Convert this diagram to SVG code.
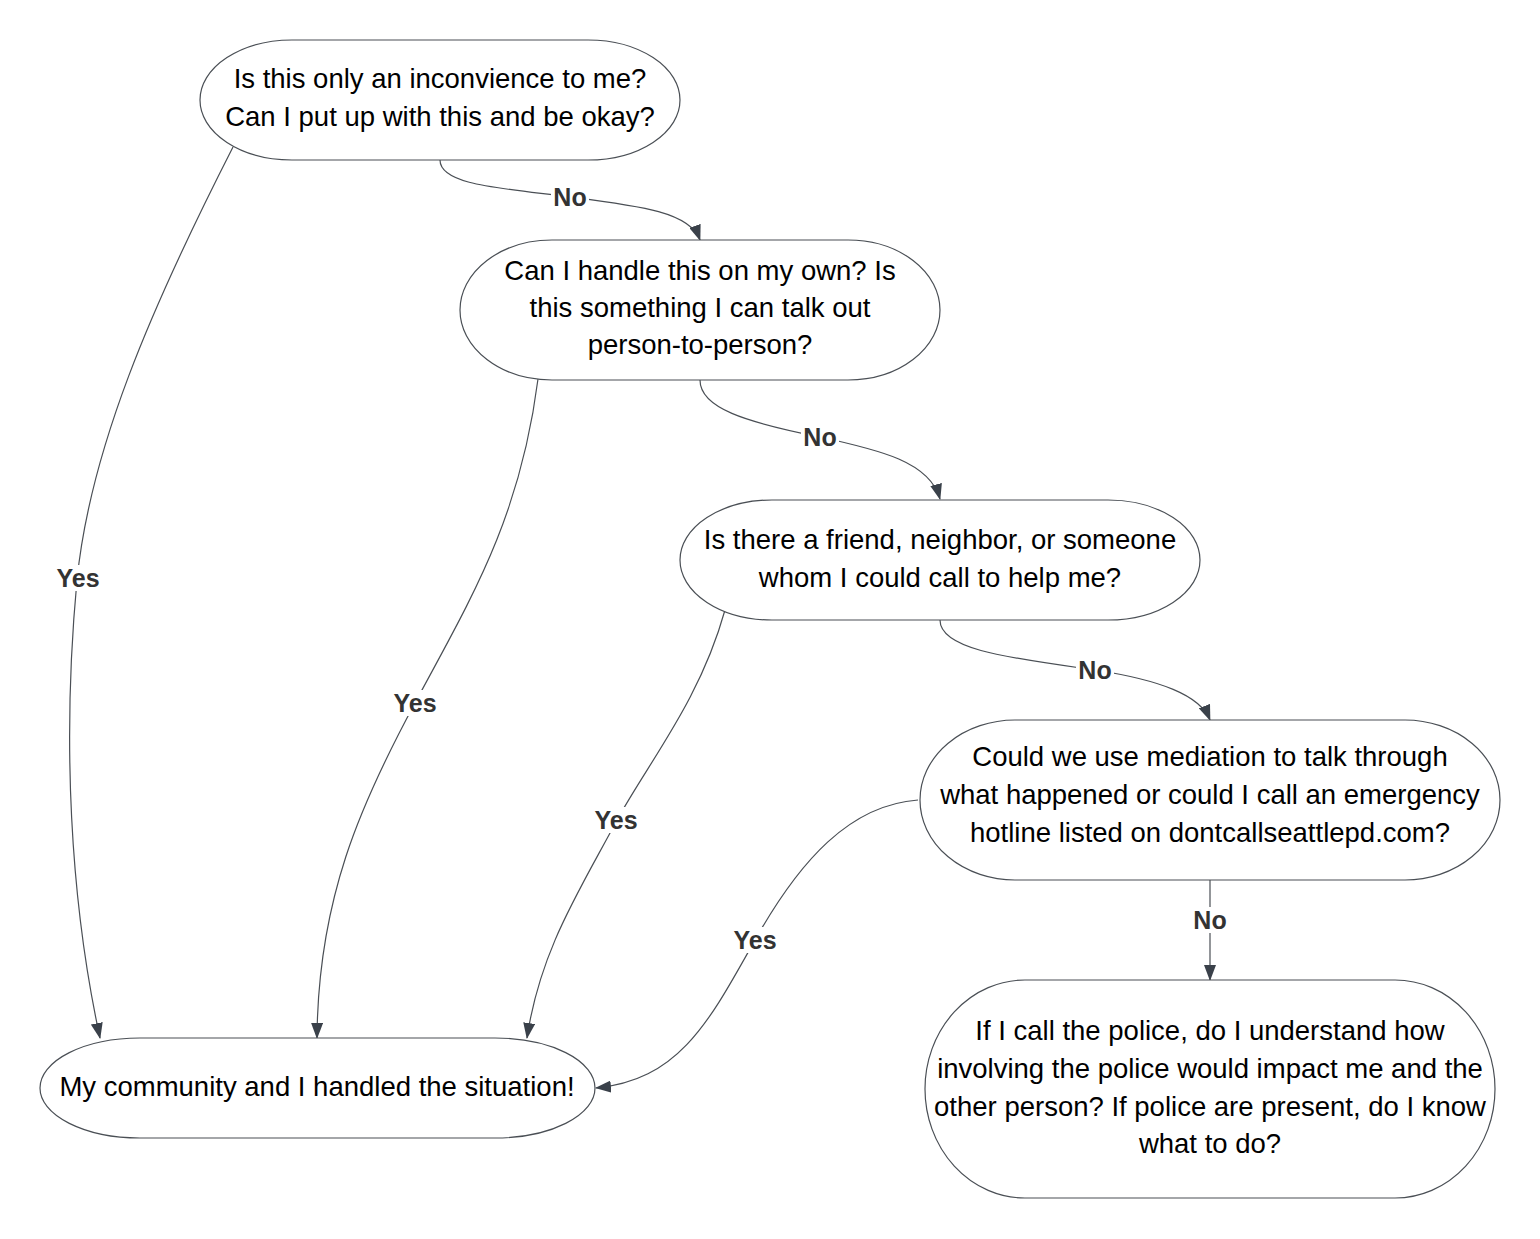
<svg xmlns="http://www.w3.org/2000/svg" width="1540" height="1239" viewBox="0 0 1540 1239">
<style>
.node{fill:#ffffff;stroke:#4a4f55;stroke-width:1.2}
.t{font-family:"Liberation Sans",Arial,sans-serif;font-size:27.5px;fill:#000;text-anchor:middle}
.edge{fill:none;stroke:#4a4f55;stroke-width:1.2}
.lb{font-family:"Liberation Sans",Arial,sans-serif;font-size:25px;font-weight:bold;fill:#333;text-anchor:middle}
.lbg{fill:#ffffff}
</style>
<defs>
<marker id="arr" viewBox="0 0 16 12" refX="15" refY="6" markerWidth="16" markerHeight="12" markerUnits="userSpaceOnUse" orient="auto">
<path d="M0,0 L16,6 L0,12 Z" fill="#3a414a"/>
</marker>
</defs>
<rect width="1540" height="1239" fill="#ffffff"/>
<g id="connectors">
<path class="edge" marker-end="url(#arr)" d="M440,160 C440,185 500,188 570,197 C640,206 690,212 700,240"/>
<path class="edge" marker-end="url(#arr)" d="M700,380 C700,408 745,422 820,437 C880,450 930,462 940,499"/>
<path class="edge" marker-end="url(#arr)" d="M940,620 C940,650 1010,658 1095,670 C1160,680 1200,695 1210,720"/>
<path class="edge" marker-end="url(#arr)" d="M1210,880 L1210,980"/>
<path class="edge" marker-end="url(#arr)" d="M233,147 C150,310 90,450 77,580 C62,740 70,900 100,1038"/>
<path class="edge" marker-end="url(#arr)" d="M538,379 C520,520 470,600 415,703 C360,805 318,900 317,1038"/>
<path class="edge" marker-end="url(#arr)" d="M725,610 C700,700 650,760 617,820 C580,890 540,950 527,1038"/>
<path class="edge" marker-end="url(#arr)" d="M918,800 C850,805 800,860 755,940 C710,1020 680,1080 596,1088"/>
<g id="labels">
<rect class="lbg" x="551" y="184" width="38" height="26"/>
<text class="lb" x="570" y="206">No</text>
<rect class="lbg" x="801" y="424" width="38" height="26"/>
<text class="lb" x="820" y="446">No</text>
<rect class="lbg" x="1076" y="657" width="38" height="26"/>
<text class="lb" x="1095" y="679">No</text>
<rect class="lbg" x="1191" y="907" width="38" height="26"/>
<text class="lb" x="1210" y="929">No</text>
<rect class="lbg" x="54" y="565" width="48" height="26"/>
<text class="lb" x="78" y="587">Yes</text>
<rect class="lbg" x="391" y="690" width="48" height="26"/>
<text class="lb" x="415" y="712">Yes</text>
<rect class="lbg" x="592" y="807" width="48" height="26"/>
<text class="lb" x="616" y="829">Yes</text>
<rect class="lbg" x="731" y="927" width="48" height="26"/>
<text class="lb" x="755" y="949">Yes</text>
</g>
</g>
<g id="n1">
<rect class="node" x="200" y="40" width="480" height="120" rx="92" ry="60"/>
<text class="t" x="440" y="88">Is this only an inconvience to me?</text>
<text class="t" x="440" y="126">Can I put up with this and be okay?</text>
</g>
<g id="n2">
<rect class="node" x="460" y="240" width="480" height="140" rx="92" ry="70"/>
<text class="t" x="700" y="280">Can I handle this on my own? Is</text>
<text class="t" x="700" y="317">this something I can talk out</text>
<text class="t" x="700" y="354">person-to-person?</text>
</g>
<g id="n3">
<rect class="node" x="680" y="500" width="520" height="120" rx="92" ry="60"/>
<text class="t" x="940" y="549">Is there a friend, neighbor, or someone</text>
<text class="t" x="940" y="587">whom I could call to help me?</text>
</g>
<g id="n4">
<rect class="node" x="920" y="720" width="580" height="160" rx="95" ry="80"/>
<text class="t" x="1210" y="766">Could we use mediation to talk through</text>
<text class="t" x="1210" y="804">what happened or could I call an emergency</text>
<text class="t" x="1210" y="842">hotline listed on dontcallseattlepd.com?</text>
</g>
<g id="n5">
<rect class="node" x="925" y="980" width="570" height="218" rx="100" ry="109"/>
<text class="t" x="1210" y="1040">If I call the police, do I understand how</text>
<text class="t" x="1210" y="1078">involving the police would impact me and the</text>
<text class="t" x="1210" y="1116">other person? If police are present, do I know</text>
<text class="t" x="1210" y="1153">what to do?</text>
</g>
<g id="n6">
<rect class="node" x="40" y="1038" width="555" height="100" rx="100" ry="50"/>
<text class="t" x="317" y="1096">My community and I handled the situation!</text>
</g>
</svg>
